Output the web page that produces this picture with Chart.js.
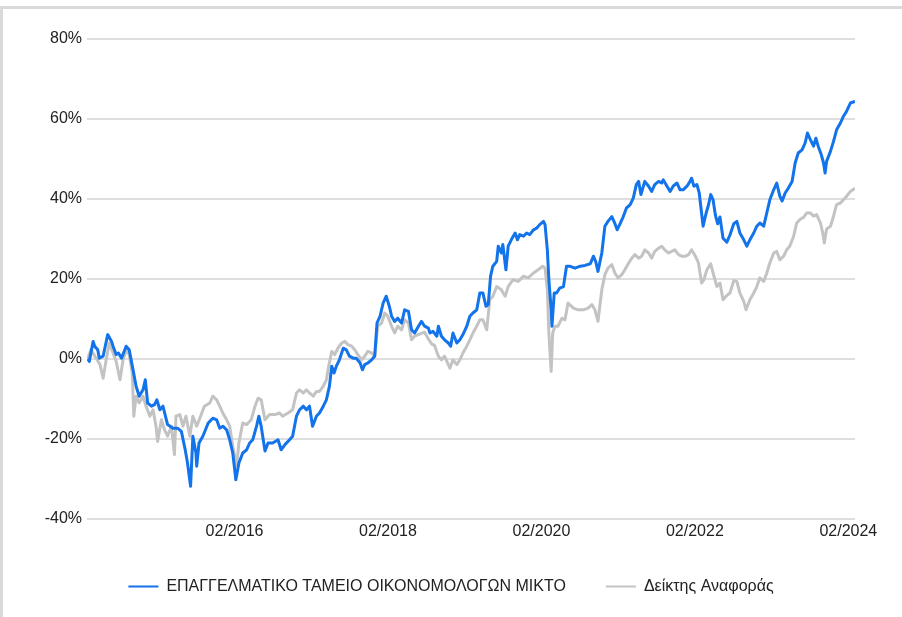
<!DOCTYPE html>
<html>
<head>
<meta charset="utf-8">
<script src="https://cdn.jsdelivr.net/npm/chart.js@4.4.1/dist/chart.umd.min.js"></script>
<style>
html,body{margin:0;padding:0;background:#fff;}
#wrap{position:relative;width:902px;height:617px;overflow:hidden;background:#fff;}
#c{position:absolute;left:0;top:0;}
.fr-top{position:absolute;left:0;top:6px;width:902px;height:3px;background:#dadada;}
.fr-left{position:absolute;left:0;top:6px;width:3px;height:611px;background:#dadada;}
</style>
</head>
<body>
<div id="wrap">
<canvas id="c" width="902" height="617"></canvas>
<div class="fr-top"></div><div class="fr-left"></div>
</div>
<script>
// ---- data (cumulative return, %) ----
const seriesNames = ['ΕΠΑΓΓΕΛΜΑΤΙΚΟ ΤΑΜΕΙΟ ΟΙΚΟΝΟΜΟΛΟΓΩΝ ΜΙΚΤΟ', 'Δείκτης Αναφοράς'];

const tickYears = [2016.083, 2018.083, 2020.083, 2022.083, 2024.083];
const tickLabels = ['02/2016', '02/2018', '02/2020', '02/2022', '02/2024'];

const fundYears = [2014.17,2014.19,2014.24,2014.26,2014.30,2014.32,2014.37,2014.43,2014.48,2014.50,
2014.54,2014.57,2014.61,2014.67,2014.71,2014.76,2014.80,2014.84,2014.89,2014.92,
2014.95,2015.00,2015.04,2015.07,2015.11,2015.15,2015.21,2015.28,2015.34,2015.39,
2015.44,2015.47,2015.51,2015.54,2015.58,2015.59,2015.62,2015.67,2015.74,2015.80,
2015.85,2015.89,2015.93,2015.98,2016.02,2016.06,2016.10,2016.14,2016.19,2016.24,
2016.28,2016.32,2016.37,2016.40,2016.43,2016.48,2016.52,2016.58,2016.65,2016.69,
2016.74,2016.80,2016.84,2016.89,2016.93,2016.98,2017.02,2017.06,2017.10,2017.15,
2017.19,2017.24,2017.28,2017.32,2017.35,2017.38,2017.41,2017.45,2017.50,2017.54,
2017.58,2017.63,2017.67,2017.72,2017.75,2017.78,2017.82,2017.87,2017.91,2017.94,
2017.98,2018.02,2018.06,2018.10,2018.13,2018.17,2018.21,2018.26,2018.30,2018.35,
2018.39,2018.43,2018.48,2018.52,2018.56,2018.61,2018.63,2018.67,2018.72,2018.74,
2018.78,2018.82,2018.87,2018.90,2018.93,2018.98,2019.02,2019.06,2019.11,2019.15,
2019.19,2019.24,2019.28,2019.32,2019.36,2019.39,2019.42,2019.45,2019.50,2019.52,
2019.56,2019.58,2019.62,2019.65,2019.69,2019.74,2019.77,2019.80,2019.85,2019.89,
2019.93,2019.98,2020.02,2020.06,2020.11,2020.13,2020.16,2020.18,2020.21,2020.22,
2020.25,2020.28,2020.32,2020.37,2020.41,2020.45,2020.52,2020.59,2020.65,2020.72,
2020.76,2020.79,2020.82,2020.87,2020.91,2020.95,2021.00,2021.04,2021.07,2021.11,
2021.15,2021.19,2021.24,2021.28,2021.32,2021.35,2021.38,2021.43,2021.48,2021.52,
2021.56,2021.61,2021.65,2021.67,2021.72,2021.76,2021.80,2021.85,2021.89,2021.93,
2021.98,2022.02,2022.04,2022.07,2022.11,2022.14,2022.17,2022.19,2022.23,2022.26,
2022.29,2022.32,2022.35,2022.38,2022.41,2022.45,2022.50,2022.54,2022.59,2022.63,
2022.67,2022.72,2022.76,2022.80,2022.85,2022.89,2022.93,2022.98,2023.02,2023.06,
2023.11,2023.15,2023.19,2023.22,2023.26,2023.30,2023.35,2023.39,2023.43,2023.48,
2023.52,2023.55,2023.59,2023.63,2023.66,2023.69,2023.73,2023.76,2023.78,2023.80,
2023.85,2023.89,2023.93,2023.98,2024.02,2024.06,2024.11,2024.17];

const fundReturns = [0,-0.6,4.4,3.2,2.3,0.2,0.7,6.1,4.4,3.2,
1.1,1.5,0.2,3.2,2.3,-2.7,-6.8,-9.3,-7.7,-5.2,
-11,-11.8,-11.4,-10.2,-12.7,-11.8,-16.4,-17.3,-17.3,-18.1,
-22.7,-26,-31.8,-19.3,-23.5,-26.8,-21,-19.3,-16,-14.8,
-15.2,-17.3,-16.8,-17.7,-20.2,-23.5,-30.2,-26,-23.5,-22.7,
-21,-20.2,-16.8,-14.3,-16.8,-23,-21,-21,-20.2,-22.7,
-21.4,-20.2,-19.3,-14.3,-12.7,-11.8,-12.7,-11.8,-16.8,-14.3,
-13.5,-11.8,-10.2,-6.8,-1.8,-3.5,-1.8,-0.2,2.7,2.3,
0.7,0.2,0.2,-1,-2.7,-1.4,-1,-0.2,0.7,9,
10.7,14,15.7,13.2,10.7,9.4,10.2,9,12.3,11.9,
7.3,6.5,8.2,9.4,8.2,7.7,6.5,6.9,5.7,8.2,
5.7,4.8,4,3.2,6.5,4,4.8,6.1,8.2,10.7,
11.5,12.3,16.5,16.5,13.2,13.6,20.7,23.2,24.4,28.2,
26.5,28.6,22.3,28.2,29.8,31.5,29.8,31.1,30.7,31.5,
31.1,32.3,32.7,33.6,34.4,33.6,27.3,19.8,12.3,8.2,
16.5,16.5,17.7,18.1,23.2,23.2,22.7,23.2,23.4,23.8,
25.7,24.4,21.9,26.5,33.2,34.4,35.6,33.9,32.3,33.9,
35.6,37.7,38.6,40.2,43.6,44.4,41.1,44.4,43.2,41.9,
43.6,44.4,44,44.8,43.2,41.9,43.2,44,42.3,42.3,
43.2,44.4,45.2,43.2,43.6,41.5,36.5,33.2,36.5,38.5,
41.1,39.8,36,33.8,35.5,30.2,29.2,31,33.8,34.4,
31.5,29.8,28.2,29.8,31.5,33.2,34,33.2,36.5,39.8,
42.3,44,40.7,39.5,41.5,42.7,44.4,49,51.5,52.3,
54,56.5,54.8,53.2,55.2,53.2,51.1,49,46.5,49.4,
51.9,54.4,57.3,59,60.7,61.9,64,64.4];

const indexYears = [2014.17,2014.21,2014.28,2014.33,2014.37,2014.41,2014.45,2014.50,2014.54,2014.59,
2014.63,2014.67,2014.71,2014.75,2014.77,2014.80,2014.84,2014.89,2014.93,2014.98,
2015.02,2015.06,2015.08,2015.13,2015.17,2015.21,2015.26,2015.30,2015.32,2015.37,
2015.41,2015.45,2015.50,2015.54,2015.59,2015.64,2015.69,2015.76,2015.80,2015.85,
2015.89,2015.93,2015.98,2016.02,2016.06,2016.11,2016.14,2016.19,2016.24,2016.30,
2016.35,2016.39,2016.43,2016.48,2016.54,2016.61,2016.67,2016.71,2016.78,2016.84,
2016.89,2016.93,2016.98,2017.02,2017.06,2017.11,2017.15,2017.19,2017.24,2017.28,
2017.31,2017.35,2017.39,2017.43,2017.48,2017.52,2017.56,2017.61,2017.65,2017.69,
2017.74,2017.78,2017.82,2017.87,2017.91,2017.95,2018.00,2018.04,2018.08,2018.13,
2018.17,2018.21,2018.26,2018.30,2018.35,2018.39,2018.43,2018.50,2018.56,2018.61,
2018.65,2018.69,2018.74,2018.78,2018.82,2018.89,2018.93,2018.98,2019.02,2019.06,
2019.11,2019.15,2019.19,2019.24,2019.28,2019.32,2019.37,2019.41,2019.45,2019.50,
2019.56,2019.61,2019.65,2019.71,2019.78,2019.85,2019.91,2019.98,2020.04,2020.10,
2020.13,2020.16,2020.18,2020.21,2020.23,2020.26,2020.30,2020.35,2020.39,2020.43,
2020.50,2020.56,2020.63,2020.69,2020.74,2020.78,2020.82,2020.87,2020.91,2020.95,
2021.00,2021.04,2021.08,2021.13,2021.17,2021.22,2021.26,2021.30,2021.35,2021.39,
2021.43,2021.48,2021.52,2021.56,2021.61,2021.65,2021.69,2021.74,2021.78,2021.82,
2021.87,2021.91,2021.96,2022.00,2022.04,2022.09,2022.13,2022.17,2022.20,2022.24,
2022.29,2022.32,2022.37,2022.41,2022.45,2022.49,2022.54,2022.59,2022.63,2022.67,
2022.72,2022.75,2022.80,2022.85,2022.89,2022.93,2022.98,2023.02,2023.06,2023.11,
2023.15,2023.19,2023.24,2023.28,2023.32,2023.37,2023.41,2023.46,2023.50,2023.54,
2023.59,2023.63,2023.67,2023.72,2023.75,2023.77,2023.80,2023.85,2023.89,2023.93,
2023.98,2024.02,2024.06,2024.11,2024.17];

const indexReturns = [0,2.3,0.2,-1.4,-4.8,-0.2,4,1.5,-0.6,-5.2,
-0.2,2.3,1.1,-3.5,-14.3,-9.3,-11,-9.3,-11.8,-14.3,
-12.7,-16.8,-20.6,-15.2,-17.7,-19.3,-16.8,-23.9,-14.3,-13.9,
-16.8,-14.3,-19.3,-14.3,-16.8,-14.3,-11.8,-11,-9.3,-10.2,
-11.8,-13.5,-15.2,-16.8,-21.8,-26.8,-21,-16,-16.4,-15.2,
-11.8,-9.8,-10.2,-15.2,-13.9,-13.9,-13.5,-14.3,-13.5,-12.7,
-8.5,-7.7,-8.5,-7.7,-8.5,-9.3,-8.1,-8.1,-6.8,-5.2,
-1.8,1.9,1.1,2.7,4,4.4,3.6,3.2,2.3,1.1,
-0.2,0.7,1.9,1.5,0.7,8.2,9,11.5,10.7,8.2,
6.5,8.2,7.3,9.8,9,4.8,5.7,6.3,6.7,5,
3.8,3.4,0.7,-0.2,0.7,-2.3,-0.2,-1.4,-0.2,1.5,
3.2,4.8,6.5,8.2,9.8,9.8,7.3,14.8,15.7,18.1,
17.3,15.7,18.1,19.8,19.4,20.7,20.3,21.5,22.3,23.2,
22.7,17.3,6.5,-3.1,6.5,8.2,8.2,10.2,9.8,14,
12.7,12.3,12.3,12.7,13.6,12.3,9.4,17.3,21.1,22.7,
23.6,21.5,20.3,21.1,22.3,24,25.2,26.1,25.2,25.7,
27.3,26.5,25.2,26.9,27.7,28.2,27.3,26.5,26.9,27.3,
26.1,25.7,25.7,26.1,27.3,25.7,24,19,19.8,22.3,
23.8,21.5,18.1,19,14.8,15.7,16.5,19.6,19.4,16.5,
14.4,12.3,14.8,16.5,18.1,20.3,19.4,21.5,24,26.5,
26.9,24.8,25.7,27.3,28.2,30.7,34,35,35.4,36.5,
36.5,35.7,36.1,34,31.5,29,32.5,33.2,35.7,38.6,
39,39.8,40.7,41.9,42.7];

const yTickValues = [-40, -20, 0, 20, 40, 60, 80];

// ---- styling ----
const FONT = "'Liberation Sans', Arial, Helvetica, sans-serif";
const fundColor = '#1273ea';
const indexColor = '#c3c3c3';
const textColor = '#222222';

function toPoints(xs, ys) {
  const n = Math.min(xs.length, ys.length);
  const out = [];
  for (let i = 0; i < n; i++) out.push({ x: xs[i], y: ys[i] });
  return out;
}

new Chart(document.getElementById('c'), {
  type: 'line',
  data: {
    datasets: [
      {
        label: seriesNames[0],
        data: toPoints(fundYears, fundReturns),
        borderColor: fundColor,
        backgroundColor: fundColor,
        borderWidth: 3,
        pointRadius: 0,
        tension: 0,
        fill: false,
        borderJoinStyle: 'round'
      },
      {
        label: seriesNames[1],
        data: toPoints(indexYears, indexReturns),
        borderColor: indexColor,
        backgroundColor: indexColor,
        borderWidth: 3,
        pointRadius: 0,
        tension: 0,
        fill: false,
        borderJoinStyle: 'round'
      }
    ]
  },
  options: {
    responsive: false,
    animation: false,
    devicePixelRatio: 1,
    layout: { padding: { left: 0, right: 0, top: 39, bottom: 12.5 } },
    plugins: {
      tooltip: { enabled: false },
      legend: {
        position: 'bottom',
        labels: {
          boxWidth: 30,
          boxHeight: 2,
          padding: 40,
          color: textColor,
          font: { family: FONT, size: 16 },
          generateLabels: (chart) =>
            Chart.defaults.plugins.legend.labels.generateLabels(chart).map(l => ({ ...l, lineWidth: 0, fillStyle: l.strokeStyle }))
        }
      }
    },
    scales: {
      x: {
        type: 'linear',
        min: 2014.16,
        max: 2024.17,
        grid: { display: false, drawTicks: false },
        border: { display: false },
        afterBuildTicks: (s) => { s.ticks = tickYears.map(v => ({ value: v })); },
        afterFit: (s) => { s.height = 19.5; },
        ticks: {
          autoSkip: false,
          maxRotation: 0,
          padding: 3,
          color: textColor,
          font: { family: FONT, size: 16 },
          callback: (v, i) => tickLabels[i]
        }
      },
      y: {
        min: -40,
        max: 80,
        afterBuildTicks: (s) => { s.ticks = yTickValues.map(v => ({ value: v })); },
        afterFit: (s) => { s.width = 87; },
        ticks: {
          padding: 5,
          color: textColor,
          font: { family: FONT, size: 16 },
          callback: (v) => v + '%'
        },
        grid: { color: '#dedede', lineWidth: 2, drawTicks: false },
        border: { display: false }
      },
      rightGap: {
        type: 'linear',
        position: 'right',
        min: 0,
        max: 1,
        afterFit: (s) => { s.width = 47; },
        ticks: { display: false },
        grid: { display: false, drawTicks: false },
        border: { display: false }
      }
    }
  }
});
</script>
</body>
</html>
